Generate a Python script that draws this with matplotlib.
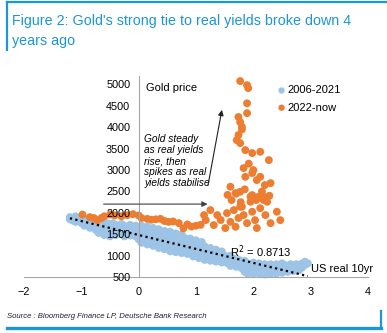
import numpy as np
import matplotlib.pyplot as plt

plt.rcParams['font.family'] = ['Liberation Sans', 'DejaVu Sans']

# 2006-2021: US real 10yr yield (x) vs gold price (y)
blue_x = [-1.2, -1.2, -1.15, -1.15, -1.1, -1.1, -1.1, -1.05, -1.05, -1.0, -1.0,
          -0.95, -0.95, -0.95, -0.9, -0.9, -0.85, -0.85, -0.85, -0.8, -0.8,
          -0.75, -0.75, -0.75, -0.7, -0.7, -0.7, -0.65, -0.65, -0.65, -0.6, -0.6, -0.6,
          -0.55, -0.55, -0.55, -0.5, -0.5, -0.5, -0.45, -0.45, -0.45, -0.4, -0.4, -0.4,
          -0.35, -0.35, -0.3, -0.3, -0.3, -0.25, -0.25, -0.25, -0.2, -0.2,
          -0.15, -0.15, -0.15, -0.1, -0.1, -0.05, -0.05, -0.05, 0.0, 0.0, 0.0,
          0.05, 0.05, 0.05, 0.05, 0.1, 0.1, 0.1, 0.15, 0.15, 0.15, 0.15, 0.2, 0.2, 0.2,
          0.25, 0.25, 0.25, 0.25, 0.3, 0.3, 0.3, 0.35, 0.35, 0.35, 0.35, 0.4, 0.4, 0.4,
          0.45, 0.45, 0.45, 0.45, 0.5, 0.5, 0.5, 0.55, 0.55, 0.55, 0.55, 0.6, 0.6, 0.6,
          0.65, 0.65, 0.65, 0.65, 0.7, 0.7, 0.7, 0.75, 0.75, 0.75, 0.75, 0.8, 0.8, 0.8,
          0.85, 0.85, 0.85, 0.9, 0.9, 0.9, 0.95, 0.95, 0.95, 1.0, 1.0, 1.0,
          1.05, 1.05, 1.05, 1.1, 1.1, 1.1, 1.15, 1.15, 1.15, 1.2, 1.2, 1.25, 1.25, 1.25,
          1.3, 1.3, 1.35, 1.35, 1.35, 1.4, 1.4, 1.45, 1.45, 1.45, 1.5, 1.5, 1.55, 1.55,
          1.6, 1.6, 1.6, 1.65, 1.65, 1.7, 1.7, 1.75, 1.75, 1.8, 1.8,
          1.85, 1.85, 1.85, 1.9, 1.9, 1.9, 1.95, 1.95, 2.0, 2.0, 2.0, 2.05, 2.05,
          2.1, 2.1, 2.1, 2.15, 2.15, 2.2, 2.2, 2.2, 2.25, 2.25, 2.3, 2.3, 2.3,
          2.35, 2.35, 2.4, 2.4, 2.4, 2.45, 2.45, 2.5, 2.5, 2.5, 2.55, 2.55, 2.6, 2.6,
          2.65, 2.65, 2.7, 2.7, 2.75, 2.75, 2.8, 2.8, 2.85, 2.85, 2.9, 2.9, 2.95]
blue_y = [1850, 1900, 1820, 1880, 1790, 1860, 1920, 1830, 1880, 1760, 1850,
          1700, 1800, 1870, 1740, 1820, 1650, 1760, 1840, 1700, 1790,
          1600, 1680, 1780, 1530, 1650, 1740, 1600, 1700, 1800, 1480, 1560, 1680,
          1520, 1640, 1760, 1450, 1580, 1700, 1520, 1650, 1760, 1480, 1600, 1720,
          1560, 1680, 1500, 1620, 1740, 1450, 1580, 1700, 1520, 1640,
          1470, 1600, 1720, 1540, 1660, 1450, 1580, 1700, 1380, 1500, 1640,
          1300, 1420, 1560, 1700, 1350, 1480, 1620, 1260, 1400, 1540, 1680, 1320, 1460, 1600,
          1230, 1360, 1500, 1650, 1280, 1420, 1560, 1180, 1320, 1460, 1620, 1250, 1380, 1520,
          1150, 1300, 1440, 1580, 1200, 1350, 1500, 1100, 1250, 1400, 1560, 1180, 1320, 1460,
          1080, 1240, 1380, 1520, 1150, 1300, 1450, 1060, 1220, 1360, 1500, 1130, 1280, 1420,
          1040, 1200, 1340, 1100, 1260, 1400, 980, 1160, 1300, 1040, 1220, 1360,
          940, 1120, 1260, 1000, 1180, 1320, 900, 1060, 1220, 960, 1120, 880, 1020, 1180,
          940, 1080, 860, 990, 1140, 920, 1050, 840, 960, 1100, 880, 1000, 820, 940,
          760, 880, 1000, 820, 940, 740, 860, 780, 900, 700, 820,
          620, 760, 880, 580, 700, 820, 640, 760, 580, 700, 840, 640, 760,
          580, 700, 820, 620, 740, 560, 680, 800, 620, 740, 580, 700, 800,
          640, 760, 580, 700, 800, 640, 760, 600, 720, 820, 660, 780, 620, 740,
          680, 800, 640, 760, 700, 800, 660, 780, 720, 820, 780, 860, 820]

# 2022-now
orange_x = [-0.98, -0.85, -0.78, -0.72, -0.65, -0.6, -0.5, -0.42, -0.3, -0.2, -0.1, 0.0, 0.05,
            0.15, 0.22, 0.3, 0.38, 0.45, 0.52, 0.6, 0.7, 0.78, 0.85, 0.92, 1.0, 1.08,
            1.14, 1.17, 1.25, 1.31, 1.37, 1.43, 1.51, 1.54, 1.6, 1.66, 1.69, 1.74, 1.8, 1.83, 1.89,
            1.95, 1.98, 2.03, 2.09, 2.12, 2.18, 2.21, 2.3, 2.41, 2.47, 2.06,
            1.55, 1.62, 1.7, 1.85, 1.95, 2.05, 2.15, 2.2, 2.28, 1.78,
            1.77, 1.89, 1.91, 1.89, 1.89, 1.74, 1.77, 1.8, 1.71, 1.77, 1.86, 1.98, 2.12, 2.27,
            1.83, 1.98, 2.12, 2.3, 1.6, 1.77, 1.98, 2.18, 1.77, 2.24, 1.86, 2.06, 1.69, 2.0,
            1.92, 1.74, 1.8]
orange_y = [1960, 1900, 1880, 1830, 1880, 1920, 1960, 1940, 1920, 1945, 1970, 1940, 1880,
            1860, 1840, 1850, 1860, 1810, 1790, 1800, 1760, 1640, 1730, 1680, 1700, 1720,
            1948, 1832, 2065, 1715, 1948, 1832, 1645, 1995, 1790, 2065, 1675, 1880, 2143, 1948, 1760,
            2260, 2026, 1830, 2376, 2110, 2300, 1948, 1760, 2026, 1830, 1645,
            2420, 2300, 2450, 2550, 2380, 2300, 2500, 2650, 2400, 2250,
            5080, 4985, 4915, 4560, 4330, 4240, 4120, 4010, 3700, 3630, 3467, 3397, 3427, 3233,
            3046, 2930, 2843, 2696, 2610, 2493, 2415, 2376, 2143, 2259, 2843, 2766, 2462, 3000,
            3150, 3820, 3950]

blue = '#9DC3E6'
orange = '#ED7D31'
frame_blue = '#1B96D6'

fig = plt.figure(figsize=(3.87, 3.33), dpi=100)
ax = fig.add_axes([0.062, 0.168, 0.889, 0.604])

ax.scatter(blue_x, blue_y, s=32, color=blue, edgecolors='none', clip_on=False, zorder=1)
ax.scatter(orange_x, orange_y, s=32, color=orange, edgecolors='none', clip_on=False, zorder=1.5)

# linear trend for 2006-2021
coef = np.polyfit(blue_x, blue_y, 1)
tx = np.array([min(blue_x), max(blue_x)])
ax.plot(tx, np.polyval(coef, tx), color='black', linestyle=(0, (1, 1.5)), linewidth=1.6, zorder=4)

ax.set_xlim(-2, 4)
ax.set_ylim(500, 5200)
ax.set_xticks(range(-2, 5))
ax.set_yticks(range(500, 5001, 500))
for s in ['top', 'right']:
    ax.spines[s].set_visible(False)
ax.spines['left'].set_position(('data', 0))
ax.spines['left'].set_color('#A6A6A6')
ax.spines['bottom'].set_color('#A6A6A6')
ax.tick_params(axis='y', length=0, pad=6, labelsize=7.8)
ax.tick_params(axis='x', length=0, pad=7, labelsize=7.8)
ax.yaxis.set_zorder(5)

ax.text(0.12, 4920, 'Gold price', fontsize=8, va='center', ha='left')
ax.text(0.1, 3210, 'Gold steady\nas real yields\nrise, then\nspikes as real\nyields stabilise',
        fontsize=7.3, style='italic', va='center', ha='left', linespacing=1.15)
ax.annotate('', xy=(1.25, 2205), xytext=(-0.66, 2205),
            arrowprops=dict(arrowstyle='-|>', color='#404040', lw=0.8, mutation_scale=8))
ax.annotate('', xy=(1.46, 4470), xytext=(1.2, 2580),
            arrowprops=dict(arrowstyle='-|>', color='#202020', lw=0.8, mutation_scale=8))
ax.text(1.6, 1085, 'R$^2$ = 0.8713', fontsize=8, va='center', ha='left')
ax.text(3.0, 695, 'US real 10yr', fontsize=8, va='center', ha='left')

ax.legend(['2006-2021', '2022-now'], loc='upper left', bbox_to_anchor=(0.726, 0.975),
          frameon=False, fontsize=8, handlelength=0.6, handletextpad=0.25,
          labelspacing=0.65, markerscale=0.8, borderaxespad=0)

# title, source, frame
fig.text(0.031, 0.907, "Figure 2: Gold's strong tie to real yields broke down 4\nyears ago",
         color=frame_blue, fontsize=10.3, va='center', ha='left', linespacing=1.5)
fig.text(0.018, 0.051, 'Source : Bloomberg Finance LP, Deutsche Bank Research',
         fontsize=5.6, style='italic', color='#1F1F3F', va='center', ha='left')
fig.add_artist(plt.Line2D([0.017, 1.0], [0.995, 0.995], color=frame_blue, lw=1.6))
fig.add_artist(plt.Line2D([0.017, 0.017], [0.995, 0.85], color=frame_blue, lw=1.6))
fig.add_artist(plt.Line2D([0.017, 0.984], [0.015, 0.015], color=frame_blue, lw=2.4))
fig.add_artist(plt.Line2D([0.984, 0.984], [0.015, 0.065], color=frame_blue, lw=1.6))

fig.savefig('out.png', dpi=100)
